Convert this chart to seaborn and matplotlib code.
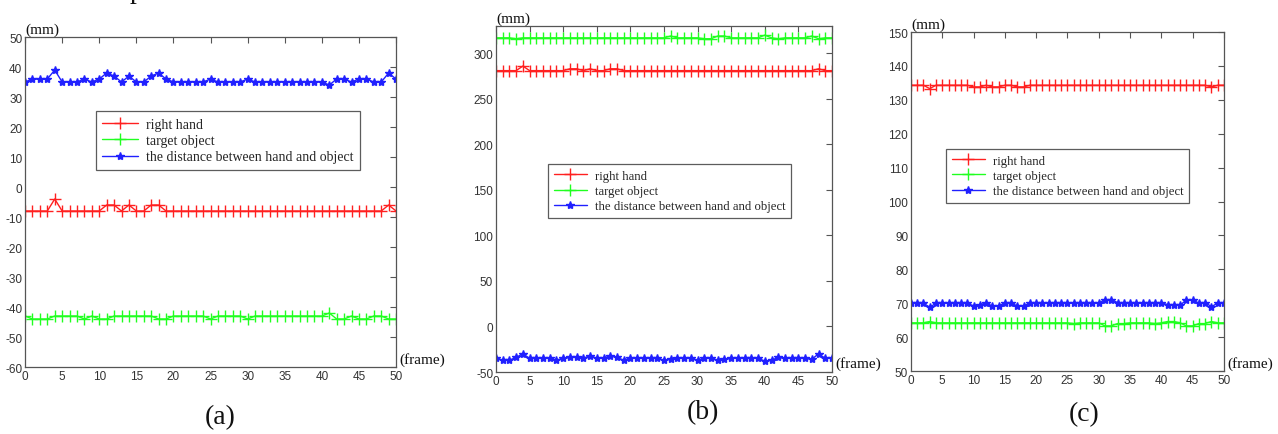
import numpy as np
import pandas as pd
import matplotlib
matplotlib.use("Agg")
import matplotlib.pyplot as plt
import seaborn as sns

# frame index shared by all three panels
frames = list(range(51))

# panel (a)
a_hand = [-8, -8, -8, -8, -4, -8, -8, -8, -8, -8, -8, -6, -6, -8, -6, -8, -8, -6, -6, -8,
          -8, -8, -8, -8, -8, -8, -8, -8, -8, -8, -8, -8, -8, -8, -8, -8, -8, -8, -8, -8,
          -8, -8, -8, -8, -8, -8, -8, -8, -8, -6, -8]
a_object = [-43, -44, -44, -44, -43, -43, -43, -43, -44, -43, -44, -44, -43, -43, -43, -43, -43, -43, -44, -44,
            -43, -43, -43, -43, -43, -44, -43, -43, -43, -43, -44, -43, -43, -43, -43, -43, -43, -43, -43, -43,
            -43, -42, -44, -44, -43, -44, -44, -43, -43, -44, -44]
a_dist = [35, 36, 36, 36, 39, 35, 35, 35, 36, 35, 36, 38, 37, 35, 37, 35, 35, 37, 38, 36,
          35, 35, 35, 35, 35, 36, 35, 35, 35, 35, 36, 35, 35, 35, 35, 35, 35, 35, 35, 35,
          35, 34, 36, 36, 35, 36, 36, 35, 35, 38, 36]

# panel (b)
b_hand = [281, 281, 281, 281, 286, 281, 281, 281, 281, 281, 281, 283, 283, 281, 283, 281, 281, 283, 283, 281,
          281, 281, 281, 281, 281, 281, 281, 281, 281, 281, 281, 281, 281, 281, 281, 281, 281, 281, 281, 281,
          281, 281, 281, 281, 281, 281, 281, 281, 283, 281, 281]
b_object = [317, 317, 317, 316, 317, 317, 317, 317, 317, 317, 317, 317, 317, 317, 317, 317, 317, 317, 317, 317,
            317, 317, 317, 317, 317, 317, 319, 317, 317, 317, 317, 316, 316, 319, 319, 317, 317, 317, 317, 317,
            320, 317, 316, 317, 317, 317, 317, 319, 316, 317, 317]
b_dist = [-35, -37, -37, -34, -30, -35, -35, -35, -35, -37, -35, -34, -34, -35, -32, -35, -35, -32, -34, -37,
          -35, -35, -35, -35, -35, -37, -36, -35, -35, -35, -37, -35, -35, -37, -36, -35, -35, -35, -35, -35,
          -38, -37, -34, -35, -35, -35, -35, -36, -30, -35, -35]

# panel (c)
c_hand = [134.3, 134.3, 134.3, 133.3, 134.3, 134.3, 134.3, 134.3, 134.3, 134.3, 133.8, 133.8, 134.3, 133.8, 133.8, 134.3, 134.3, 133.8, 133.8, 134.3,
          134.3, 134.3, 134.3, 134.3, 134.3, 134.3, 134.3, 134.3, 134.3, 134.3, 134.3, 134.3, 134.3, 134.3, 134.3, 134.3, 134.3, 134.3, 134.3, 134.3,
          134.3, 134.3, 134.3, 134.3, 134.3, 134.3, 134.3, 134.3, 133.8, 134.3, 134.3]
c_object = [64.2, 64.2, 64.2, 64.6, 64.2, 64.2, 64.2, 64.2, 64.2, 64.2, 64.2, 64.2, 64.2, 64.2, 64.2, 64.2, 64.2, 64.2, 64.2, 64.2,
            64.2, 64.2, 64.2, 64.2, 64.2, 64.2, 64.0, 64.2, 64.2, 64.2, 64.2, 63.3, 63.3, 64.0, 64.0, 64.2, 64.2, 64.2, 64.2, 64.0,
            64.2, 64.6, 64.6, 64.2, 63.3, 63.3, 64.0, 64.0, 64.6, 64.2, 64.2]
c_dist = [70, 70, 70, 68.8, 70, 70, 70, 70, 70, 70, 69.2, 69.6, 70, 69.2, 69.2, 70, 70, 69.2, 69.2, 70,
          70, 70, 70, 70, 70, 70, 70.2, 70, 70, 70, 70, 71, 71, 70.2, 70, 70, 70, 70, 70, 70.2,
          70, 69.6, 69.4, 69.4, 71, 71, 70, 70.2, 69, 70, 70]

labels = ["right hand", "target object", "the distance between hand and object"]
colors = ["#ff2020", "#20ff20", "#2020ff"]
markers = ["+", "+", "*"]

panels = [
    dict(series=[a_hand, a_object, a_dist], ylim=(-60, 50), yticks=list(range(-60, 51, 10)),
         rect=[0.0196, 0.154, 0.2903, 0.7586], leg=(0.19, 0.775), legsize=10,
         caption="(a)", cap_xy=(220, 418)),
    dict(series=[b_hand, b_object, b_dist], ylim=(-50, 330), yticks=list(range(-50, 301, 50)),
         rect=[0.3881, 0.1425, 0.2629, 0.7954], leg=(0.155, 0.601), legsize=9.2,
         caption="(b)", cap_xy=(703, 413)),
    dict(series=[c_hand, c_object, c_dist], ylim=(50, 150), yticks=list(range(50, 151, 10)),
         rect=[0.7128, 0.1448, 0.2449, 0.7793], leg=(0.112, 0.655), legsize=9.2,
         caption="(c)", cap_xy=(1084, 415)),
]

sns.set_style("white")
plt.rcParams['font.family'] = ['Liberation Sans', 'DejaVu Sans']
plt.rcParams['axes.unicode_minus'] = False
serif = ['Liberation Serif', 'DejaVu Serif']

W, H = 1278, 435
fig = plt.figure(figsize=(W / 100, H / 100), dpi=100)

for p in panels:
    ax = fig.add_axes(p["rect"])
    for vals, lab, col, mk in zip(p["series"], labels, colors, markers):
        df = pd.DataFrame({"frame": frames, "value": vals})
        sns.lineplot(data=df, x="frame", y="value", ax=ax, color=col, marker=mk,
                     markersize=8 if mk == "+" else 6, markeredgewidth=1.0,
                     markeredgecolor=col, linewidth=1.0, label=lab)
    ax.set_xlim(0, 50)
    ax.set_ylim(*p["ylim"])
    ax.set_xticks(list(range(0, 51, 5)))
    ax.set_yticks(p["yticks"])
    ax.set_xlabel("")
    ax.set_ylabel("")
    ax.tick_params(direction="in", length=4, width=0.8, top=True, right=True,
                   labelsize=8.5, colors="#555555", labelcolor="#333333", pad=2)
    for s in ax.spines.values():
        s.set_color("#555555")
        s.set_linewidth(0.9)
    ax.text(0.0, 1.003, "(mm)", transform=ax.transAxes, ha="left", va="bottom",
            fontsize=11, family=serif, color="#111111")
    ax.text(1.01, 0.025, "(frame)", transform=ax.transAxes, ha="left", va="center",
            fontsize=11, family=serif, color="#111111")
    leg = ax.legend(loc="upper left", bbox_to_anchor=p["leg"], frameon=True, fancybox=False,
                    prop={"family": serif, "size": p["legsize"]}, handlelength=2.6,
                    labelspacing=0.25, borderpad=0.45, handletextpad=0.6, borderaxespad=0)
    leg.get_frame().set_edgecolor("#333333")
    leg.get_frame().set_linewidth(0.9)
    fig.text(p["cap_xy"][0] / W, 1 - p["cap_xy"][1] / H, p["caption"], ha="center", va="center",
             fontsize=20, family=serif, color="#111111")

# descender of the cropped caption line above the figure
fig.text(130 / W, 1 + 2 / H, "p", ha="left", va="baseline", fontsize=20, family=serif, color="#111111")

fig.savefig("out.png", dpi=100, facecolor="white")
